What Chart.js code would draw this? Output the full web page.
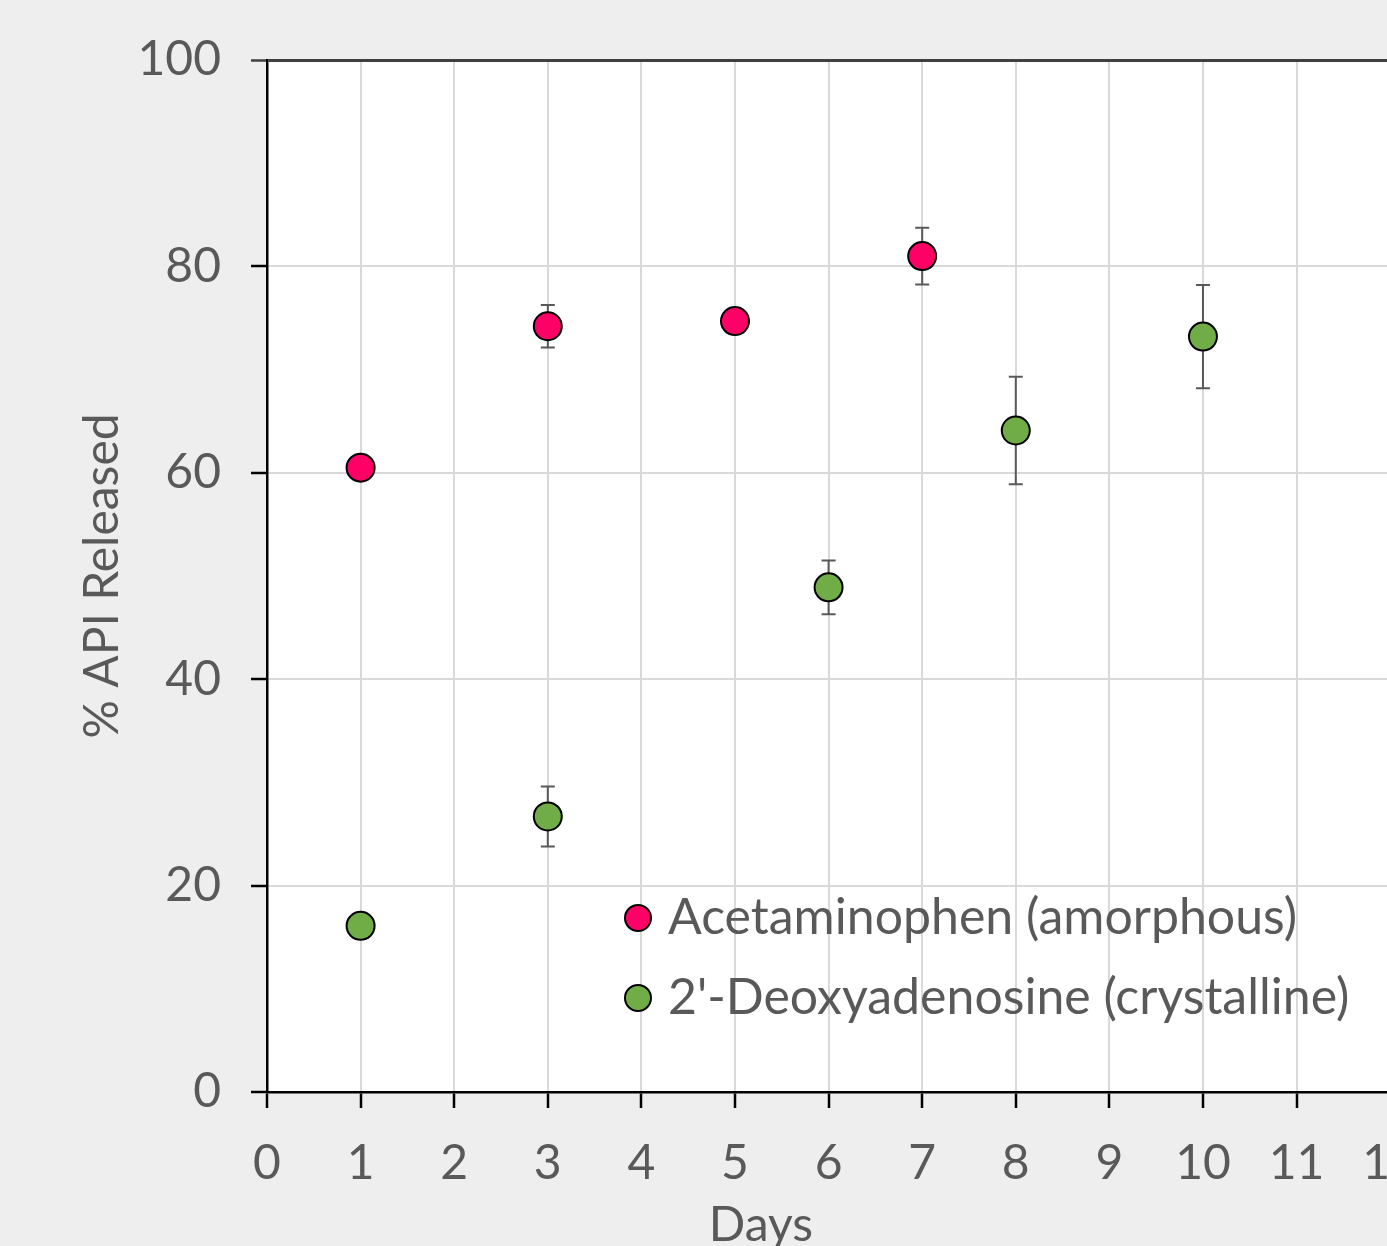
<!DOCTYPE html>
<html>
<head>
<meta charset="utf-8">
<script src="https://cdn.jsdelivr.net/npm/chart.js@4.4.1/dist/chart.umd.min.js"></script>
<style>
    html, body { margin: 0; padding: 0; background: #eeeeee; overflow: hidden; }
    #wrap { width: 1445px; height: 1246px; }
</style>
</head>
<body>
<div id="wrap"><canvas id="releaseChart" width="1445" height="1246"></canvas></div>
<script>
// Данные
const seriesNames = ['Acetaminophen (amorphous)', "2'-Deoxyadenosine (crystalline)"];
const acetDays = [1, 3, 5, 7];
const acetValues = [60.5, 74.2, 74.7, 81.0];
const acetErrors = [1.0, 2.05, 1.0, 2.75];
const deoxyDays = [1, 3, 6, 8, 10];
const deoxyValues = [16.1, 26.7, 48.9, 64.1, 73.2];
const deoxyErrors = [1.0, 2.9, 2.6, 5.2, 5.0];
const yTicks = [0, 20, 40, 60, 80, 100];

const FONT = 'Lato, "Open Sans", sans-serif';
const TEXT_COLOR = '#595959';

function toPoints(days, values) {
    return days.map((d, i) => ({ x: d, y: values[i] }));
}

// Белый фон области построения
const plotBackground = {
    id: 'plotBackground',
    beforeDraw(chart) {
        const { ctx, chartArea } = chart;
        ctx.save();
        ctx.fillStyle = '#ffffff';
        ctx.fillRect(chartArea.left, chartArea.top, chartArea.right - chartArea.left, chartArea.bottom - chartArea.top);
        ctx.restore();
    }
};

// Планки погрешностей
const errorBars = {
    id: 'errorBars',
    beforeDatasetsDraw(chart) {
        const { ctx, scales } = chart;
        ctx.save();
        ctx.strokeStyle = '#595959';
        ctx.lineWidth = 2;
        chart.data.datasets.forEach(ds => {
            ds.data.forEach((p, i) => {
                const err = ds.errors[i];
                const x = scales.x.getPixelForValue(p.x);
                const yTop = scales.y.getPixelForValue(p.y + err);
                const yBot = scales.y.getPixelForValue(p.y - err);
                ctx.beginPath();
                ctx.moveTo(x, yTop); ctx.lineTo(x, yBot);
                ctx.moveTo(x - 7, yTop); ctx.lineTo(x + 7, yTop);
                ctx.moveTo(x - 7, yBot); ctx.lineTo(x + 7, yBot);
                ctx.stroke();
            });
        });
        ctx.restore();
    }
};

// Легенда внутри области и подпись оси X
const insideLegend = {
    id: 'insideLegend',
    afterDraw(chart) {
        const { ctx } = chart;
        ctx.save();
        ctx.font = '50px ' + FONT;
        ctx.textBaseline = 'middle';
        chart.data.datasets.forEach((ds, i) => {
            const cy = 918 + i * 80;
            ctx.beginPath();
            ctx.arc(638, cy, 13, 0, Math.PI * 2);
            ctx.fillStyle = ds.backgroundColor;
            ctx.fill();
            ctx.lineWidth = 2;
            ctx.strokeStyle = '#000000';
            ctx.stroke();
            ctx.fillStyle = TEXT_COLOR;
            ctx.textAlign = 'left';
            ctx.fillText(ds.label, 668, cy);
        });
        ctx.font = '48px ' + FONT;
        ctx.textAlign = 'center';
        ctx.textBaseline = 'alphabetic';
        ctx.fillText('Days', 761, 1241);
        ctx.restore();
    }
};

const ctx = document.getElementById('releaseChart').getContext('2d');
new Chart(ctx, {
    type: 'scatter',
    data: {
        datasets: [
            {
                label: seriesNames[0],
                data: toPoints(acetDays, acetValues),
                errors: acetErrors,
                backgroundColor: '#ff0066',
                borderColor: '#000000',
                borderWidth: 2,
                pointRadius: 14,
                pointHoverRadius: 14
            },
            {
                label: seriesNames[1],
                data: toPoints(deoxyDays, deoxyValues),
                errors: deoxyErrors,
                backgroundColor: '#70ad47',
                borderColor: '#000000',
                borderWidth: 2,
                pointRadius: 14,
                pointHoverRadius: 14
            }
        ]
    },
    options: {
        responsive: false,
        animation: false,
        layout: { padding: { top: 60, right: 30, left: 0, bottom: 0 } },
        plugins: {
            legend: { display: false },
            tooltip: { enabled: false }
        },
        scales: {
            x: {
                type: 'linear',
                min: 0,
                max: 12,
                afterFit: s => { s.height = 154; },
                ticks: {
                    stepSize: 1,
                    padding: 27,
                    color: TEXT_COLOR,
                    font: { family: FONT, size: 48 }
                },
                grid: {
                    color: '#d9d9d9',
                    lineWidth: 2,
                    tickLength: 16,
                    tickColor: '#000000',
                    tickWidth: 2.5
                },
                border: { color: '#000000', width: 2.5 }
            },
            y: {
                min: 0,
                max: 100,
                afterFit: s => { s.width = 267; },
                afterBuildTicks: s => { s.ticks = yTicks.map(v => ({ value: v })); },
                ticks: {
                    padding: 30,
                    color: TEXT_COLOR,
                    font: { family: FONT, size: 48 }
                },
                grid: {
                    color: c => c.tick && c.tick.value === 100 ? '#404040' : '#d9d9d9',
                    lineWidth: c => c.tick && c.tick.value === 100 ? 3 : 2,
                    tickLength: 16,
                    tickColor: c => c.tick && c.tick.value === 100 ? '#404040' : '#000000',
                    tickWidth: 2.5
                },
                border: { color: '#000000', width: 2.5 },
                title: {
                    display: true,
                    text: '% API Released',
                    color: TEXT_COLOR,
                    font: { family: FONT, size: 48 },
                    padding: { top: 74, bottom: 0 }
                }
            }
        }
    },
    plugins: [plotBackground, errorBars, insideLegend]
});
</script>
</body>
</html>
